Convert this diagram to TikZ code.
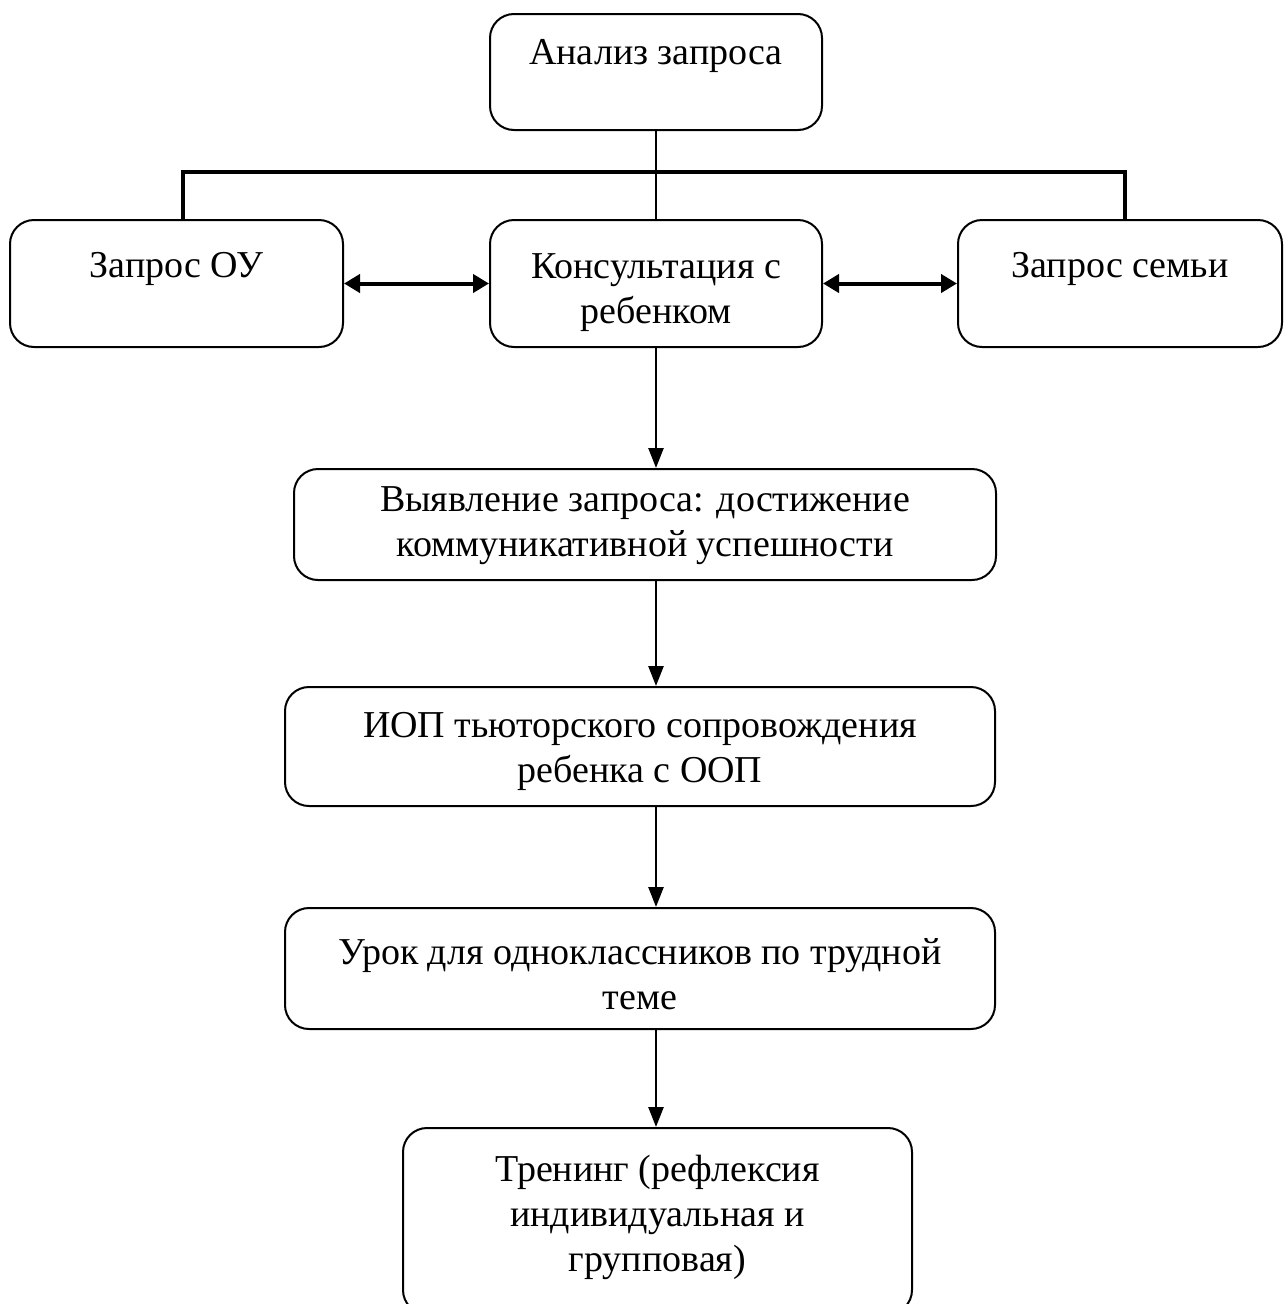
\documentclass[tikz,border=0pt]{standalone}
\usepackage{fontspec}
\setmainfont{Liberation Serif}
\usetikzlibrary{arrows.meta}
\begin{document}
\begin{tikzpicture}[x=1pt,y=-1pt,
  box/.style={draw,line width=2pt,rounded corners=24pt,inner sep=0pt},
  txt/.style={align=center,inner sep=0pt,font=\fontsize{38}{45}\selectfont},
  conn/.style={line width=2.5pt},
  arr/.style={line width=2.5pt,-{Triangle[length=20pt,width=15pt]}},
  darr/.style={line width=4pt,{Triangle[length=16pt,width=18pt]}-{Triangle[length=16pt,width=18pt]}}]
\useasboundingbox (0,0) rectangle (1284,1304);
\begin{scope}
\clip (0,0) rectangle (1284,1304);
\node[box,minimum width=332pt,minimum height=116pt] (a) at (656,72) {};
\node[box,minimum width=333pt,minimum height=127pt] (l) at (176.5,283.5) {};
\node[box,minimum width=332pt,minimum height=127pt] (m) at (656,283.5) {};
\node[box,minimum width=324pt,minimum height=127pt] (r) at (1120,283.5) {};
\node[box,minimum width=702pt,minimum height=111pt] (d) at (645,524.5) {};
\node[box,minimum width=710pt,minimum height=119pt] (e) at (640,746.5) {};
\node[box,minimum width=710pt,minimum height=121pt] (f) at (640,968.5) {};
\node[box,minimum width=509pt,minimum height=186pt] (g) at (657.5,1221) {};
\end{scope}

\node[txt] (ta) at (656,56) {Анализ запроса};
\node[txt] (tl) at (176.5,269) {Запрос ОУ};
\node[txt] (tm) at (656,292.5) {Консультация с\\ребенком};
\node[txt] (tr) at (1120,269) {Запрос семьи};
\node[txt] (td) at (645,526) {Выявление запроса: достижение\\коммуникативной успешности};
\node[txt] (te) at (640,751) {ИОП тьюторского сопровождения\\ребенка с ООП};
\node[txt] (tf) at (640,974) {Урок для одноклассников по трудной\\теме};
\node[txt] (tg) at (657.5,1217) {Тренинг (рефлексия\\индивидуальная и\\групповая)};

\coordinate (hl) at (183,172);
\coordinate (hr) at (1125,172);
\draw[conn] (a.south) -- (m.north);
\draw[line width=3.5pt] (l.north -| hl) -- (hl) -- (hr) -- (r.north -| hr);
\draw[darr] (l.east) -- (m.west);
\draw[darr] (m.east) -- (r.west);
\draw[arr] (m.south) -- (m.south |- d.north);
\draw[arr] (d.south -| m.south) -- (m.south |- e.north);
\draw[arr] (e.south -| m.south) -- (m.south |- f.north);
\draw[arr] (f.south -| m.south) -- (m.south |- g.north);
\end{tikzpicture}
\end{document}
